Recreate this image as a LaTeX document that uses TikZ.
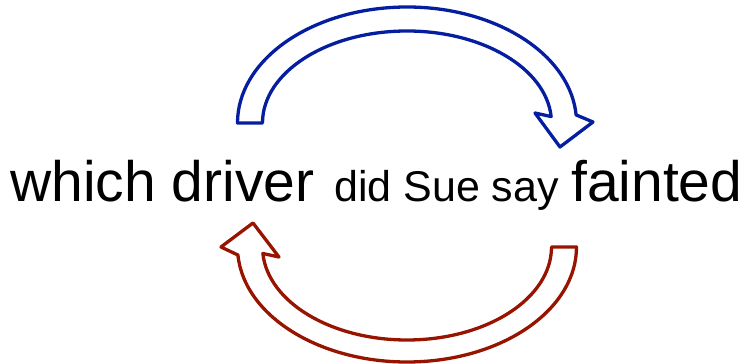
\documentclass[tikz,border=0pt]{standalone}
\usepackage{fontspec}
\setmainfont{Liberation Sans}
\usetikzlibrary{calc}
\definecolor{arcblue}{RGB}{5,30,160}
\definecolor{arcred}{RGB}{150,20,0}

\begin{document}
\begin{tikzpicture}[x=1pt, y=1pt,
    big/.style={inner sep=0pt, anchor=base west, font=\fontsize{57}{60}\selectfont},
    small/.style={inner sep=0pt, anchor=base west, font=\fontsize{43}{46}\selectfont},
    hollow/.style={line width=3.3pt, line join=round, fill=white}
]
\useasboundingbox (0,0) rectangle (748,364);

\node[big] (which) at (10,162) {which driver};
\node[small] (didsay) at (334,162) {did Sue say};
\node[big] (fainted) at (571,162) {fainted};

\coordinate (topc) at (407,241);
\coordinate (botc) at (407,117);

% upper arrow: driver -> fainted
\draw[hollow, draw=arcblue] ($(topc)+(-169.5,0)$) -- ($(topc)+(-144.5,0)$)
    arc[start angle=180, end angle=4, x radius=144.5pt, y radius=92pt]
    -- (535,251) -- (560,217) -- (593,242)
    -- ($(topc)+(4:169.5pt and 116pt)$)
    arc[start angle=4, end angle=180, x radius=169.5pt, y radius=116pt] -- cycle;

% lower arrow: fainted -> driver
\draw[hollow, draw=arcred] ($(botc)+(169.5,0)$) -- ($(botc)+(144.5,0)$)
    arc[start angle=0, end angle=-176, x radius=144.5pt, y radius=93pt]
    -- (279,107) -- (253,141) -- (221,117)
    -- ($(botc)+(-176:169.5pt and 115pt)$)
    arc[start angle=-176, end angle=0, x radius=169.5pt, y radius=115pt] -- cycle;

\end{tikzpicture}
\end{document}
